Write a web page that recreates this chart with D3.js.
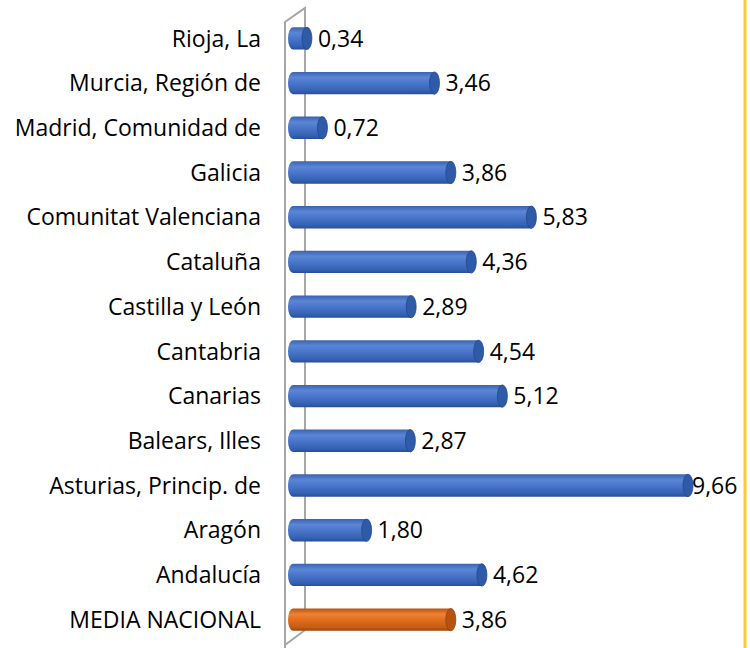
<!DOCTYPE html>
<html>
<head>
<meta charset="utf-8">
<script src="https://cdn.jsdelivr.net/npm/d3@7"></script>
<style>
  html, body { margin: 0; padding: 0; background: #fff; }
  svg { display: block; font-family: "Open Sans", sans-serif; }
</style>
</head>
<body>
<script>
  var regions = ["Rioja, La", "Murcia, Región de", "Madrid, Comunidad de", "Galicia",
    "Comunitat Valenciana", "Cataluña", "Castilla y León", "Cantabria", "Canarias",
    "Balears, Illes", "Asturias, Princip. de", "Aragón", "Andalucía", "MEDIA NACIONAL"];
  var values = [0.34, 3.46, 0.72, 3.86, 5.83, 4.36, 2.89, 4.54, 5.12, 2.87, 9.66, 1.80, 4.62, 3.86];
  var highlight = ["MEDIA NACIONAL"];

  var W = 750, H = 648;
  var x0 = 293, plotTop = 16, plotBottom = 642;
  var svg = d3.select("body").append("svg").attr("width", W).attr("height", H);

  var x = d3.scaleLinear().domain([0, 9.66]).range([x0, 688]);
  var y = d3.scaleBand().domain(regions).range([plotTop, plotBottom]).paddingInner(0.5).paddingOuter(0.25);

  var defs = svg.append("defs");
  function grad(id, stops) {
    var g = defs.append("linearGradient").attr("id", id)
      .attr("x1", 0).attr("y1", 0).attr("x2", 0).attr("y2", 1);
    stops.forEach(function (s) {
      g.append("stop").attr("offset", s[0]).attr("stop-color", s[1]);
    });
  }
  grad("gBlue", [[0, "#3a63b0"], [0.25, "#5b86d6"], [0.5, "#4a76cb"], [0.85, "#3561b4"], [1, "#284e94"]]);
  grad("gOrange", [[0, "#b8520f"], [0.25, "#ee8233"], [0.5, "#e06f1f"], [0.85, "#c65b12"], [1, "#9c440a"]]);

  // 3D wall
  var wall = svg.append("g").attr("fill", "none").attr("stroke", "#a6a6a6").attr("stroke-width", 2);
  wall.append("path").attr("d", "M285,648 L285,22 L305,8 L305,630 L285,645");

  // bars
  var bars = svg.selectAll(".bar").data(regions).enter().append("g").attr("class", "bar");
  var h = y.bandwidth();
  var rx = 5;
  bars.append("path")
    .attr("fill", function (d) { return highlight.indexOf(d) >= 0 ? "url(#gOrange)" : "url(#gBlue)"; })
    .attr("d", function (d, i) {
      var xa = x(0), xb = x(values[i]), yt = y(d), yb = y(d) + h;
      return "M" + xb + "," + yt + " L" + xa + "," + yt +
        " A" + rx + "," + (h / 2) + " 0 0 0 " + xa + "," + yb +
        " L" + xb + "," + yb + " Z";
    });
  bars.append("ellipse")
    .attr("cx", function (d, i) { return x(values[i]); })
    .attr("cy", function (d) { return y(d) + h / 2; })
    .attr("rx", rx).attr("ry", h / 2)
    .attr("fill", function (d) { return highlight.indexOf(d) >= 0 ? "#b5530f" : "#2f5aa8"; })
    .attr("stroke", function (d) { return highlight.indexOf(d) >= 0 ? "#8f420a" : "#24478a"; })
    .attr("stroke-width", 0.8);

  // value labels (kept inside the plot area, as the original does for the longest bar)
  bars.append("text")
    .attr("x", function (d, i) { return Math.min(x(values[i]) + 11, 692); })
    .attr("y", function (d) { return y(d) + h / 2; })
    .attr("dy", "0.36em")
    .attr("font-size", 23)
    .attr("fill", "#000")
    .text(function (d, i) { return d3.format(".2f")(values[i]).replace(".", ","); });

  // category labels
  svg.append("g").selectAll("text").data(regions).enter().append("text")
    .attr("x", 261)
    .attr("y", function (d) { return y(d) + h / 2; })
    .attr("dy", "0.36em")
    .attr("text-anchor", "end")
    .attr("font-size", 23)
    .attr("fill", "#000")
    .text(function (d) { return d; });

  // right border
  svg.append("line").attr("x1", 745).attr("x2", 745).attr("y1", 0).attr("y2", H)
    .attr("stroke", "#ffc832").attr("stroke-width", 3);
</script>
</body>
</html>
